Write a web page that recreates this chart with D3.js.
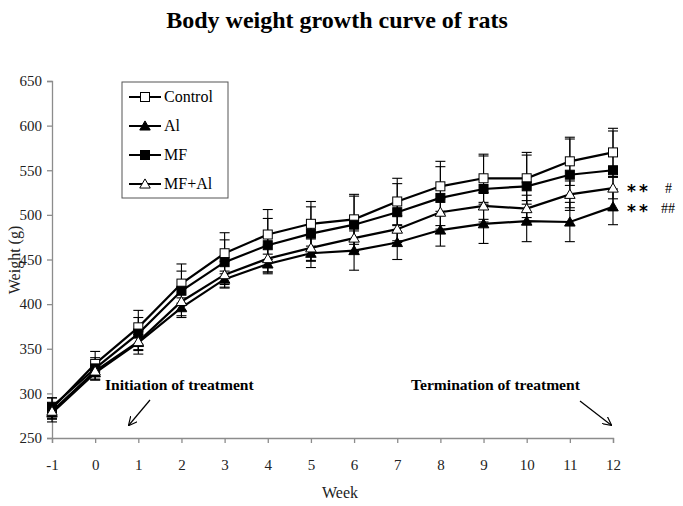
<!DOCTYPE html>
<html><head><meta charset="utf-8">
<script src="https://cdn.jsdelivr.net/npm/d3@7"></script>
<style>body{margin:0;background:#fff}svg{display:block}</style>
</head><body>
<svg id="c" width="683" height="506"></svg>
<script>
const weeks = [-1,0,1,2,3,4,5,6,7,8,9,10,11,12];
const controlVals = [283,333,374,423,457,478,490,495,515,532,541,541,560,570];
const controlSD   = [12,14,19,22,23,28,25,28,26,28,27,29,27,27];
const alVals      = [278,323,357,396,428,445,457,460,469,483,490,493,492,509];
const alSD        = [10,8,9,11,9,11,16,22,19,18,22,23,22,20];
const mfVals      = [285,328,367,415,447,466,479,489,503,519,529,532,545,550];
const mfSD        = [10,12,18,22,25,30,30,32,32,35,37,35,40,44];
const mfalVals    = [280,325,358,403,433,451,463,474,484,503,510,507,523,530];
const mfalSD      = [8,10,14,16,15,15,15,15,15,15,15,15,15,12];
const yTicks = [250,300,350,400,450,500,550,600,650];
const seriesNames = ["Control","Al","MF","MF+Al"];

const series = [
  {name: seriesNames[0], vals: controlVals, sd: controlSD, marker: "sqOpen"},
  {name: seriesNames[1], vals: alVals, sd: alSD, marker: "triFill"},
  {name: seriesNames[2], vals: mfVals, sd: mfSD, marker: "sqFill"},
  {name: seriesNames[3], vals: mfalVals, sd: mfalSD, marker: "triOpen"}
];

const svg = d3.select("#c");
const serif = "'Liberation Serif','Times New Roman',serif";
const x = d3.scaleLinear().domain([-1,12]).range([52,613]);
const y = d3.scaleLinear().domain([250,650]).range([438,81]);

// title
svg.append("text").attr("x",337).attr("y",28).attr("text-anchor","middle")
  .attr("font-family",serif).attr("font-weight","bold").attr("font-size",24).text("Body weight growth curve of rats");

// axes
const axCol = "#8c8c8c";
const yAx = svg.append("g").attr("transform","translate(52,0)")
  .call(d3.axisLeft(y).tickValues(yTicks).tickSize(5).tickPadding(5).tickFormat(d=>String(d)));
const xAx = svg.append("g").attr("transform","translate(0,438)")
  .call(d3.axisBottom(x).tickValues(weeks).tickSize(5).tickPadding(16).tickFormat(d=>String(d)));
[yAx,xAx].forEach(a=>{
  a.select(".domain").attr("stroke",axCol).attr("stroke-width",1.3);
  a.selectAll(".tick line").attr("stroke",axCol).attr("stroke-width",1.3);
  a.selectAll(".tick text").attr("font-family",serif).attr("font-size",15).attr("fill","#222");
});

svg.append("text").attr("x",340).attr("y",498).attr("text-anchor","middle")
  .attr("font-family",serif).attr("font-size",16).attr("fill","#222").text("Week");
svg.append("text").attr("transform","translate(20,260) rotate(-90)").attr("text-anchor","middle")
  .attr("font-family",serif).attr("font-size",16).attr("fill","#222").text("Weight (g)");

// error bars
const eb = svg.append("g").attr("stroke","#000").attr("stroke-width",1.1);
series.forEach(s=>{
  weeks.forEach((w,i)=>{
    const cx = x(w), y1 = y(s.vals[i]+s.sd[i]), y2 = y(s.vals[i]-s.sd[i]);
    eb.append("line").attr("x1",cx).attr("x2",cx).attr("y1",y1).attr("y2",y2);
    eb.append("line").attr("x1",cx-5).attr("x2",cx+5).attr("y1",y1).attr("y2",y1);
    eb.append("line").attr("x1",cx-5).attr("x2",cx+5).attr("y1",y2).attr("y2",y2);
  });
});

// lines
const line = d3.line().x((d,i)=>x(weeks[i])).y(d=>y(d));
series.forEach(s=>{
  svg.append("path").attr("d",line(s.vals)).attr("fill","none").attr("stroke","#000").attr("stroke-width",2.2);
});

function drawMarker(g, type, cx, cy){
  if(type==="sqOpen"||type==="sqFill"){
    g.append("rect").attr("x",cx-4.5).attr("y",cy-4.5).attr("width",9).attr("height",9)
      .attr("fill", type==="sqFill"?"#000":"#fff").attr("stroke","#000").attr("stroke-width",1);
  } else {
    g.append("path").attr("d",d3.symbol().type(d3.symbolTriangle).size(48)())
      .attr("transform",`translate(${cx},${cy+1})`)
      .attr("fill", type==="triFill"?"#000":"#fff").attr("stroke","#000").attr("stroke-width",1);
  }
}
series.forEach(s=>{
  const g = svg.append("g");
  weeks.forEach((w,i)=>drawMarker(g, s.marker, x(w), y(s.vals[i])));
});

// legend
const lg = svg.append("g");
lg.append("rect").attr("x",122).attr("y",82).attr("width",106).attr("height",116)
  .attr("fill","#fff").attr("stroke","#555").attr("stroke-width",1);
series.forEach((s,i)=>{
  const ly = 97 + i*29;
  lg.append("line").attr("x1",129).attr("x2",161).attr("y1",ly).attr("y2",ly).attr("stroke","#000").attr("stroke-width",2);
  drawMarker(lg, s.marker, 145, ly);
  lg.append("text").attr("x",164).attr("y",ly+5).attr("font-family",serif).attr("font-size",16).text(s.name);
});

// annotations
svg.append("defs").append("marker").attr("id","ah").attr("viewBox","0 0 10 10").attr("refX",9).attr("refY",5)
  .attr("markerWidth",9).attr("markerHeight",9).attr("orient","auto-start-reverse").attr("markerUnits","userSpaceOnUse")
  .append("path").attr("d","M0,0 L10,5 L0,10").attr("fill","none").attr("stroke","#000").attr("stroke-width",1.3);
svg.append("text").attr("x",105).attr("y",390).attr("font-family",serif).attr("font-weight","bold").attr("font-size",15.6).text("Initiation of treatment");
svg.append("line").attr("x1",150).attr("y1",400).attr("x2",129).attr("y2",425).attr("stroke","#000").attr("stroke-width",1.2).attr("marker-end","url(#ah)");
svg.append("text").attr("x",411).attr("y",390).attr("font-family",serif).attr("font-weight","bold").attr("font-size",15.6).text("Termination of treatment");
svg.append("line").attr("x1",580).attr("y1",401).attr("x2",611).attr("y2",425).attr("stroke","#000").attr("stroke-width",1.2).attr("marker-end","url(#ah)");

// significance marks
[["**","#",197],["**","##",217]].forEach(([a,b,yy])=>{
  svg.append("text").attr("x",627).attr("y",yy).attr("font-family","'DejaVu Sans',sans-serif")
    .attr("font-weight","bold").attr("letter-spacing",3).attr("font-size",17).attr("fill","#000").text(a);
  svg.append("text").attr("x",b==="#"?665:661).attr("y",yy-4).attr("font-family",serif).attr("font-size",14).text(b);
});
</script>
</body></html>
